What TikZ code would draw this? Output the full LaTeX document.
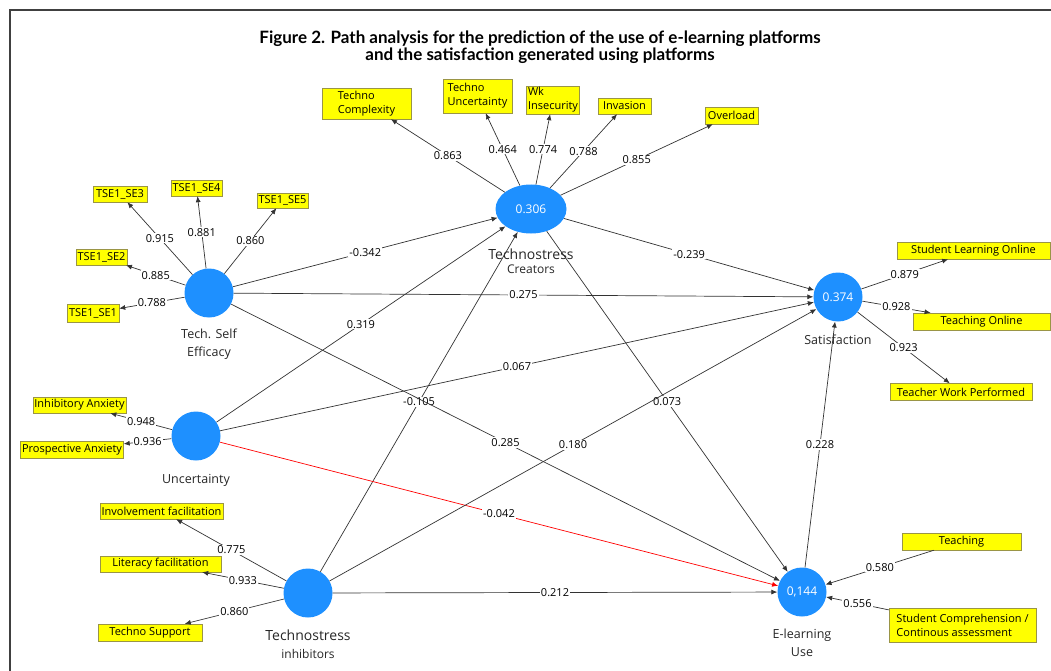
\documentclass[tikz,border=0pt]{standalone}
\usepackage{fontspec}
\setmainfont{Open Sans}
\newfontfamily\titlefont{Lato}
\usepackage{xcolor}
\usepackage{tikz}
\usetikzlibrary{shapes,arrows.meta,positioning,calc}

\definecolor{lvblue}{RGB}{30,144,255}
\definecolor{indyellow}{RGB}{255,255,0}

\begin{document}
\begin{tikzpicture}[
            x=1pt, y=-1pt,
            latent/.style={circle, fill=lvblue, minimum size=49pt, inner sep=0pt, text=white, font=\fontsize{12}{14}\selectfont},
            ind/.style={draw=yellow!55!black, line width=0.4pt, fill=indyellow, align=left, inner sep=1.5pt, font=\fontsize{11}{14}\selectfont},
            cname/.style={align=center, inner sep=0pt, text=black!85, font=\fontsize{12.5}{18}\selectfont},
            arr/.style={draw=black!80, line width=0.7pt, -{Latex[length=6pt,width=5pt]}},
            coef/.style={midway, fill=white, text=black, inner sep=1pt, font=\fontsize{11}{13}\selectfont}
        ]
            \useasboundingbox (0,0) rectangle (1051,671);
            \draw[black!75, line width=1.3pt] (1051,10) -- (10,10) -- (10,671);
            \node[font=\titlefont\bfseries\fontsize{17}{16.5}\selectfont, align=center] (title) at (540,47) {Figure 2. Path analysis for the prediction of the use of e-learning platforms\\and the satisfaction generated using platforms};

            % latent variables
            \node[latent, ellipse, minimum width=71pt, minimum height=49pt] (tc) at (531,209) {0.306};
            \node[latent] (tse) at (209,293) {};
            \node[latent] (unc) at (196,436) {};
            \node[latent] (ti) at (308,593) {};
            \node[latent] (sat) at (838,297) {0.374};
            \node[latent] (elu) at (802,592) {0,144};

            \node[cname, below=15pt of tc, font=\fontsize{12}{14}\selectfont] (tcname) {{\fontsize{14}{15}\selectfont Technostress}\\Creators};
            \node[cname, below=11pt of tse] (tsename) {Tech. Self\\Efficacy};
            \node[cname, below=13pt of unc] (uncname) {Uncertainty};
            \node[cname, below=11.5pt of ti, font=\fontsize{12}{18}\selectfont] (tiname) {{\fontsize{14}{15}\selectfont Technostress}\\inhibitors};
            \node[cname, below=13pt of sat] (satname) {Satisfaction};
            \node[cname, below=12pt of elu] (eluname) {E-learning\\Use};

            % indicators
            \node[ind, minimum width=89pt, minimum height=31pt] (cplx) at (366.5,103.5) {Techno\\Complexity};
            \node[ind, minimum width=69pt, minimum height=34pt] (tunc) at (477.5,96) {Techno\\Uncertainty};
            \node[ind, minimum width=52pt, minimum height=28pt] (wk) at (553,100) {Wk\\Insecurity};
            \node[ind, minimum width=53pt, minimum height=16pt] (inva) at (624.5,106) {Invasion};
            \node[ind, minimum width=53pt, minimum height=17pt] (ovl) at (731.5,115.5) {Overload};

            \node[ind, minimum width=54pt, minimum height=16pt] (se3) at (120,194) {TSE1\_SE3};
            \node[ind, minimum width=49pt, minimum height=16pt] (se4) at (196.5,188) {TSE1\_SE4};
            \node[ind, minimum width=49pt, minimum height=15pt] (se5) at (282.5,200.5) {TSE1\_SE5};
            \node[ind, minimum width=49pt, minimum height=16pt] (se2) at (101.5,257) {TSE1\_SE2};
            \node[ind, minimum width=52pt, minimum height=18pt] (se1) at (93,313) {TSE1\_SE1};

            \node[ind, minimum width=93pt, minimum height=16pt] (inh) at (79.5,405) {Inhibitory Anxiety};
            \node[ind, minimum width=100pt, minimum height=17pt] (pro) at (72,449.5) {Prospective Anxiety};

            \node[ind, minimum width=123pt, minimum height=16pt] (invf) at (161.5,511) {Involvement facilitation};
            \node[ind, minimum width=121pt, minimum height=16pt] (litf) at (160.5,564) {Literacy facilitation};
            \node[ind, minimum width=104pt, minimum height=17pt] (tsup) at (150,632.5) {Techno Support};

            \node[ind, minimum width=153pt, minimum height=17pt] (slo) at (973.5,250.5) {Student Learning Online};
            \node[ind, minimum width=137pt, minimum height=17pt] (tol) at (981.5,321.5) {Teaching Online};
            \node[ind, minimum width=142pt, minimum height=17pt] (twp) at (961,392) {Teacher Work Performed};

            \node[ind, minimum width=119pt, minimum height=17pt] (tch) at (961.5,541.5) {Teaching};
            \node[ind, minimum width=147pt, minimum height=34pt] (scm) at (962.5,625) {Student Comprehension /\\Continous assessment};

            % outer model
            \draw[arr] (tc) -- node[coef] {0.863} (cplx);
            \draw[arr] (tc) -- node[coef] {0.464} (tunc);
            \draw[arr] (tc) -- node[coef] {0.774} (wk);
            \draw[arr] (tc) -- node[coef] {0.788} (inva);
            \draw[arr] (tc) -- node[coef] {0.855} (ovl);

            \draw[arr] (tse) -- node[coef] {0.915} (se3);
            \draw[arr] (tse) -- node[coef] {0.881} (se4);
            \draw[arr] (tse) -- node[coef] {0.860} (se5);
            \draw[arr] (tse) -- node[coef] {0.885} (se2);
            \draw[arr] (tse) -- node[coef] {0.788} (se1);

            \draw[arr] (unc) -- node[coef] {0.948} (inh);
            \draw[arr] (unc) -- node[coef] {0.936} (pro);

            \draw[arr] (ti) -- node[coef] {0.775} (invf);
            \draw[arr] (ti) -- node[coef] {0.933} (litf);
            \draw[arr] (ti) -- node[coef] {0.860} (tsup);

            \draw[arr] (sat) -- node[coef] {0.879} (slo);
            \draw[arr] (sat) -- node[coef] {0.928} (tol);
            \draw[arr] (sat) -- node[coef] {0.923} (twp);

            \draw[arr] (tch) -- node[coef] {0.580} (elu);
            \draw[arr] (scm) -- node[coef] {0.556} (elu);

            % inner model
            \draw[arr] (ti) -- node[coef] {-0.105} (tc);
            \draw[arr] (tc) -- node[coef] {0.073} (elu);
            \draw[arr] (tse) -- node[coef] {-0.342} (tc);
            \draw[arr] (tse) -- node[coef] {0.275} (sat);
            \draw[arr] (tse) -- node[coef] {0.285} (elu);
            \draw[arr] (tc) -- node[coef] {-0.239} (sat);
            \draw[arr] (unc) -- node[coef] {0.319} (tc);
            \draw[arr] (unc) -- node[coef] {0.067} (sat);
            \draw[arr, draw=red] (unc) -- node[coef] {-0.042} (elu);
            \draw[arr] (ti) -- node[coef] {0.180} (sat);
            \draw[arr] (ti) -- node[coef] {0.212} (elu);
            \draw[arr] (elu) -- node[coef] {0.228} (sat);
        \end{tikzpicture}
\end{document}
